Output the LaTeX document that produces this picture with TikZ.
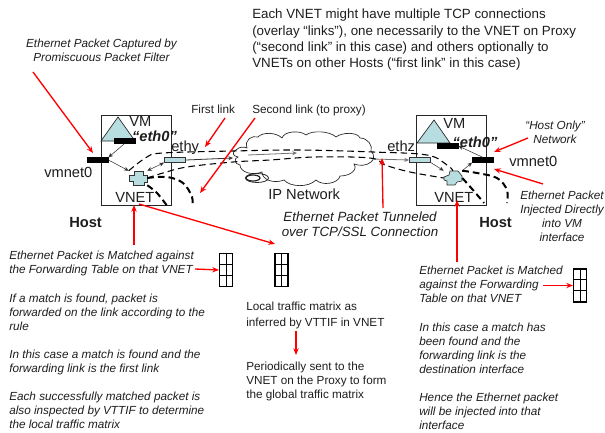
\documentclass[tikz,border=0pt]{standalone}
\usepackage{fontspec}
\setmainfont{Liberation Sans}
\usetikzlibrary{arrows.meta,calc}
\definecolor{tealf}{RGB}{183,221,224}
\definecolor{txt}{RGB}{30,30,30}
\tikzset{
 x=0.75pt,y=-0.75pt,
 redarrow/.style={draw=red,line width=1pt,-{Stealth[length=5pt,width=4pt]}},
 thinarrow/.style={draw=black!80,line width=0.4pt,-{Stealth[length=3.5pt,width=3pt]}},
 dashone/.style={draw=black,line width=0.8pt,dash pattern=on 5pt off 3pt},
 dashtwo/.style={draw=black,line width=1.5pt,dash pattern=on 5pt off 3pt},
 hostbox/.style={draw=black!85,line width=0.7pt,fill=white,minimum width=52.5pt,minimum height=67.5pt,inner sep=0pt},
 nic/.style={fill=black,draw=black,inner sep=0pt,minimum width=16pt,minimum height=3.5pt},
 tap/.style={fill=tealf,draw=black!80,line width=0.5pt,inner sep=0pt,minimum width=16pt,minimum height=3.5pt},
 vnetsym/.style={inner sep=0pt,minimum width=13.5pt,minimum height=10.5pt},
 blob/.style={fill=tealf,draw=black!80,line width=0.5pt},
 lab/.style={text=txt,font=\fontsize{11pt}{12pt}\selectfont,inner sep=0pt,anchor=base west},
 note/.style={text=txt,font=\fontsize{8.8pt}{10.5pt}\selectfont\itshape,inner sep=0pt,anchor=north west,align=left},
 plain/.style={text=txt,font=\fontsize{8.8pt}{10.5pt}\selectfont,inner sep=0pt,anchor=north west,align=left},
 bignote/.style={text=txt,font=\fontsize{10pt}{11.3pt}\selectfont\itshape,inner sep=0pt,align=center,anchor=north},
 eth/.style={text=txt,font=\fontsize{11pt}{12pt}\selectfont\bfseries\itshape,inner sep=0pt},
 tbl/.style={draw=black,line width=1.1pt,fill=white,minimum width=9.5pt,minimum height=25pt,inner sep=0pt},
}
\newcommand{\tabl}[3]{%
 \node[tbl] (#1) at (#2,#3) {};
 \draw[line width=0.5pt] (#1.north)--(#1.south);
 \draw[line width=0.5pt] ($(#1.north west)!0.33!(#1.south west)$)--($(#1.north east)!0.33!(#1.south east)$);
 \draw[line width=0.5pt] ($(#1.north west)!0.64!(#1.south west)$)--($(#1.north east)!0.64!(#1.south east)$);
}
\begin{document}
\begin{tikzpicture}
\useasboundingbox (0,0) rectangle (605,432);
\fill[white] (0,0) rectangle (605,432);
% cloud
\path[fill=white,draw=black!85,line width=0.5pt] (236,150)
 .. controls (240,146) and (244,147) .. (247,148)
 .. controls (244,140) and (252,135) .. (258,137)
 .. controls (262,132) and (276,132) .. (282,138)
 .. controls (284,131) and (300,130) .. (306,135)
 .. controls (312,130) and (330,131) .. (336,137)
 .. controls (342,132) and (358,132) .. (360,138)
 .. controls (368,138) and (373,146) .. (371,151)
 .. controls (375,155) and (374,160) .. (371,162)
 .. controls (366,166) and (360,166) .. (354,164)
 .. controls (358,170) and (350,176) .. (340,176)
 .. controls (338,184) and (322,186) .. (316,180)
 .. controls (308,188) and (290,187) .. (284,180)
 .. controls (274,184) and (262,180) .. (262,172)
 .. controls (252,176) and (240,172) .. (240,165)
 .. controls (234,164) and (234,158) .. (238,157)
 .. controls (232,156) and (232,152) .. (236,150) -- cycle;
\draw[line width=0.6pt,draw=black!85] (257,178) ellipse (11.5 and 4.5);
\draw[line width=0.9pt,draw=black!85] (253,178) ellipse (7 and 3);
% hosts
\node[hostbox] (hostL) at (136,160) {};
\node[hostbox] (hostR) at (451,160) {};
% VMs
\path[fill=tealf,draw=black!85,line width=0.5pt] (101,141) -- (118,117) -- (135,141) -- cycle;
\path[fill=tealf,draw=black!85,line width=0.5pt] (417,143) -- (434,120) -- (450,143) -- cycle;
% VNET blobs
\begin{scope}[shift={(138,178)}]
\path[blob] (-9,-3)--(-4,-3)--(-4,-7)--(5,-7)--(5,-3)--(9,-3)--(9,4)--(6,4)--(6,7)--(-5,7)--(-5,3)--(-9,3)--cycle;
\end{scope}
\begin{scope}[shift={(453,178)}]
\path[blob] (-9,-1)--(-4,-3)--(-3,-7)--(5,-7)--(9,-2)--(9,3)--(4,4)--(2,7)--(-6,7)--(-6,3)--(-9,2)--cycle;
\end{scope}
% nodes
\node[nic] (ethL) at (124.5,141) {};
\node[nic] (vmnetL) at (97.5,160) {};
\node[tap] (tapL) at (175,160) {};
\node[vnetsym] (vnetL) at (138,178) {};
\node[nic] (ethR) at (447.5,146) {};
\node[nic] (vmnetR) at (483,160) {};
\node[tap] (tapR) at (420,160) {};
\node[vnetsym] (vnetR) at (453,178) {};
\coordinate (cloudL) at (233,158);
\coordinate (cloudR) at (373,159);
\coordinate (cloudA) at (248,155);
\coordinate (cloudB) at (297,153);
% thin
\draw[thinarrow] (ethL.south) -- (vmnetL.north east);
\draw[thinarrow] (vmnetL.east) -- (vnetL.north west);
\draw[thinarrow,{Stealth[length=3.5pt,width=3pt]}-{Stealth[length=3.5pt,width=3pt]}] (vnetL.north east) -- (tapL.south west);
\draw[thinarrow,line width=0.6pt] (tapL.east) -- (cloudL);
\draw[thinarrow,draw=black!55,line width=0.6pt] (cloudA) -- (cloudB);
\draw[thinarrow,draw=black!55,line width=0.6pt] (cloudR) -- (tapR.west);
\draw[thinarrow] (tapR.south east) -- (vnetR.north west);
\draw[thinarrow] (vnetR.north east) -- (vmnetR.south west);
\draw[thinarrow] (vmnetR.north) -- (ethR.east);
% dashed links
\draw[dashone] plot[smooth,tension=0.6] coordinates {(vnetL.north west) (147,157) (163,153) (233,151) (300,150) (373,152) (427,155) (447,165) (vnetR.north)};
\draw[dashone] plot[smooth,tension=0.6] coordinates {(vnetL.east) (163,173) (187,167) (233,162) (270,160) (315,157) (370,158) (385,165) (410,172) (vnetR.west)};
% thick dashed
\draw[dashtwo] plot[smooth,tension=0.6] coordinates {(vnetL.east) (167,177) (183,183) (192,197) (192,207)};
\draw[dashtwo] plot[smooth,tension=0.6] coordinates {(vnetL.south east) (157,193) (168,207)};
\draw[dashtwo] plot[smooth,tension=0.6] coordinates {(vnetR.north east) (477,173) (497,178) (507,190) (507,203)};
\draw[dashtwo] plot[smooth,tension=0.6] coordinates {(vnetR.east) (473,190) (484,203)};
% labels
\node[lab] (tVML) at (129,126) {VM};
\node[lab] (tVMR) at (443,128) {VM};
\node[eth] (eL) at (154.5,136) {“eth0”};
\node[eth] (eR) at (475,142) {“eth0”};
\node[lab] (tethy) at (171,151) {ethy};
\node[lab] (tethz) at (387,151) {ethz};
\node[lab] (tvmL) at (44,177) {vmnet0};
\node[lab] (tvmR) at (509,166) {vmnet0};
\node[lab] (tvnL) at (115,202) {VNET};
\node[lab] (tvnR) at (434,202) {VNET};
\node[lab] (tip) at (268,199) {IP Network};
\node[lab,font=\fontsize{11pt}{12pt}\selectfont\bfseries] (hL) at (69,227) {Host};
\node[lab,font=\fontsize{11pt}{12pt}\selectfont\bfseries] (hR) at (479,227) {Host};
\node[plain,anchor=base west] (fl) at (191,113) {First link};
\node[plain,anchor=base west] (sl) at (252,113) {Second link (to proxy)};
% text
\node[plain,font=\fontsize{10pt}{12.2pt}\selectfont] (top) at (252,9) {Each VNET might have multiple TCP connections\\(overlay “links”), one necessarily to the VNET on Proxy\\(“second link” in this case) and others optionally to\\VNETs on other Hosts (“first link” in this case)};
\node[note,align=center,anchor=north] (capt) at (101.5,38.5) {Ethernet Packet Captured by\\Promiscuous Packet Filter};
\node[note,align=center,anchor=north] (hostonly) at (555,120.5) {“Host Only”\\Network};
\node[note,align=center,anchor=north] (inj) at (562,190.5) {Ethernet Packet\\Injected Directly\\into VM\\interface};
\node[bignote] (tun) at (360,211.5) {Ethernet Packet Tunneled\\over TCP/SSL Connection};
\node[note] (n1) at (9,250.5) {Ethernet Packet is Matched against\\the Forwarding Table on that VNET};
\node[note] (n2) at (9,293.5) {If a match is found, packet is\\forwarded on the link according to the\\rule};
\node[note] (n3) at (9,349.5) {In this case a match is found and the\\forwarding link is the first link};
\node[note] (n4) at (9,391.5) {Each successfully matched packet is\\also inspected by VTTIF to determine\\the local traffic matrix};
\node[plain,font=\fontsize{8.8pt}{12pt}\selectfont] (m1) at (246,301.5) {Local traffic matrix as\\inferred by VTTIF in VNET};
\node[plain] (m2) at (246,361.5) {Periodically sent to the\\VNET on the Proxy to form\\the global traffic matrix};
\node[note] (r1) at (419,265.5) {Ethernet Packet is Matched\\against the Forwarding\\Table on that VNET};
\node[note] (r2) at (419,322.5) {In this case a match has\\been found and the\\forwarding link is the\\destination interface};
\node[note] (r3) at (419,392.5) {Hence the Ethernet packet\\will be injected into that\\interface};
% tables
\tabl{t1}{226}{270}
\tabl{t2}{281.5}{270}
\tabl{t3}{580}{285.5}
% red arrows
\coordinate (a1s) at (33,72);
\coordinate (a1e) at (93,153);
\coordinate (flS) at (225,118);
\coordinate (flE) at (205,147);
\coordinate (slS) at (255,118);
\coordinate (slE) at (200,193);
\coordinate (hbS) at (134,245);
\coordinate (hbE) at (134,205);
\coordinate (rbS) at (139,204);
\coordinate (rbE) at (275,244);
\coordinate (n1E) at (195,269);
\coordinate (tuS) at (383,208);
\coordinate (tuE) at (382,158);
\coordinate (vrS) at (457,262);
\coordinate (vrE) at (457,200);
\coordinate (hoS) at (528,138);
\coordinate (hoE) at (494,152);
\coordinate (inS) at (543,184);
\coordinate (inE) at (494,169);
\coordinate (r1E) at (543,285.5);
\coordinate (m1E) at (296,331);
\coordinate (m2E) at (296,355);
\draw[redarrow] (a1s) -- (a1e);
\draw[redarrow] (flS) -- (flE);
\draw[redarrow] (slS) -- (slE);
\draw[redarrow] (hbS) -- (hbE);
\draw[redarrow] (rbS) -- (rbE);
\draw[redarrow] (n1E) -- (t1.west);
\draw[redarrow] (tuS) -- (tuE);
\draw[redarrow] (vrS) -- (vrE);
\draw[redarrow] (hoS) -- (hoE);
\draw[redarrow] (inS) -- (inE);
\draw[redarrow] (r1E) -- (t3.west);
\draw[redarrow] (m1E) -- (m2E);
\end{tikzpicture}
\end{document}
